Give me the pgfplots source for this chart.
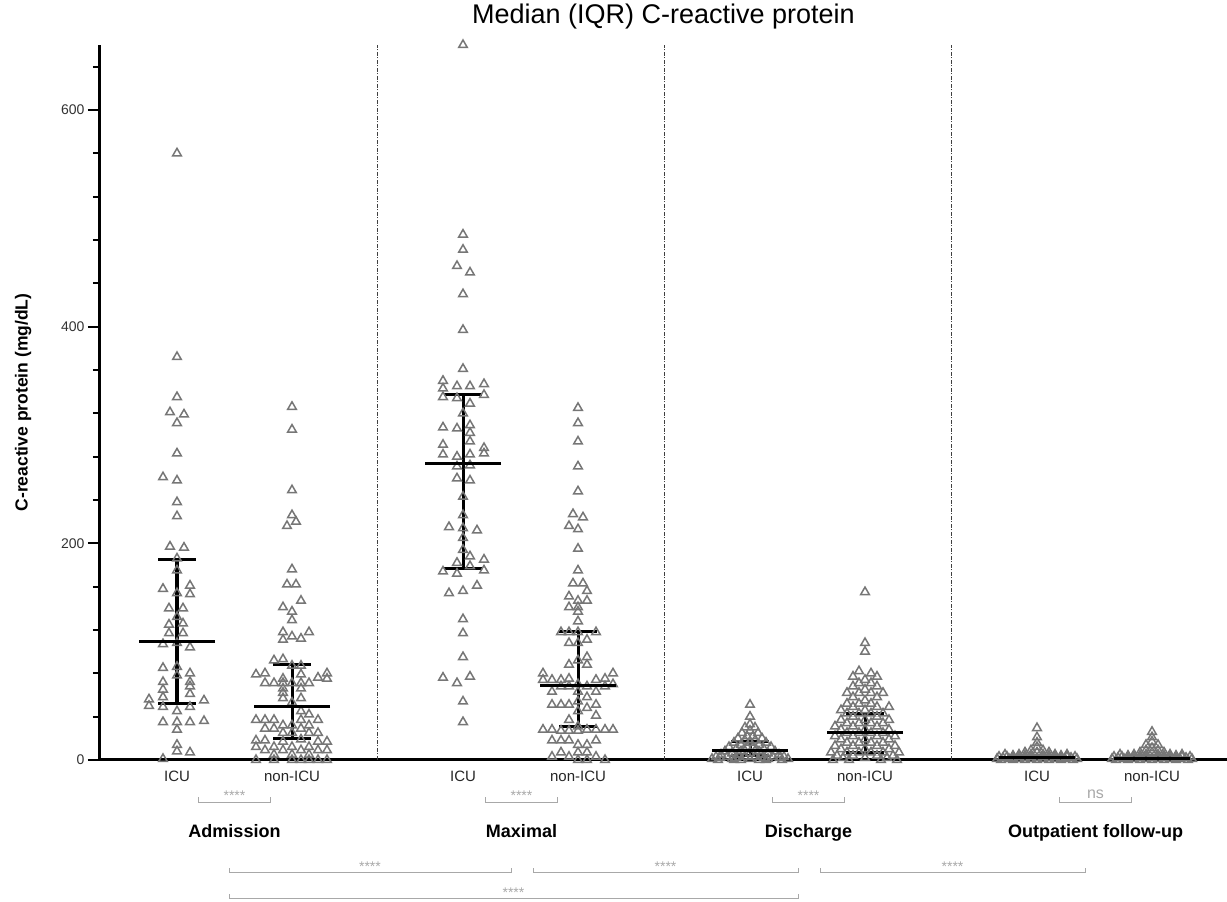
\documentclass[border=0pt]{standalone}
\usepackage{fontspec}
\setmainfont{Liberation Sans}
\usepackage{pgfplots}
\pgfplotsset{compat=1.18}
\definecolor{pt}{HTML}{767676}
\definecolor{sig}{HTML}{A8A8A8}
\pgfplotsset{
  pts/.style={only marks, mark=triangle, mark size=5pt, mark options={draw=pt, line width=1.5pt, fill=none}},
  sep/.style={black!75, line width=0.8pt, dash pattern=on 4pt off 1.5pt on 1pt off 1.5pt},
}
\tikzset{
  cat/.style={font=\fontsize{15}{18}\selectfont, text=black!85, anchor=base},
  grp/.style={font=\bfseries\fontsize{18}{21}\selectfont, anchor=base},
  stars/.style={font=\fontsize{14}{16}\selectfont, text=sig, anchor=base},
  brk/.style={draw=sig, line width=1pt},
}
\begin{document}
\begin{tikzpicture}
\begin{axis}[
  at={(100pt,142pt)}, anchor=south west,
  scale only axis, width=1127pt, height=715pt,
  xmin=100, xmax=1227, ymin=0, ymax=660,
  axis lines=left, axis line style={-, line width=3pt, black},
  xtick=\empty,
  ytick={0,200,400,600},
  minor ytick={40,80,120,160,240,280,320,360,440,480,520,560,640},
  tick align=outside, major tick length=12pt, minor tick length=7pt,
  tick style={black, line width=2pt},
  yticklabel style={font=\fontsize{14}{16}\selectfont, text=black!80},
  /pgf/number format/assume math mode=true,
  clip=false,
  title={Median (IQR) C-reactive protein},
  title style={font=\fontsize{27}{32}\selectfont, at={(0.5,1)}, anchor=center, yshift=22pt},
  ylabel={C-reactive protein (mg/dL)},
  ylabel style={font=\bfseries\fontsize{17.5}{20}\selectfont, at={(axis description cs:-0.0683,0.5)}, anchor=center},
]
% separators between time points
\addplot[sep] coordinates {(377.5,0) (377.5,660)};
\addplot[sep] coordinates {(664.5,0) (664.5,660)};
\addplot[sep] coordinates {(951.5,0) (951.5,660)};

% Admission ICU
\addplot[pts] coordinates {(177,560) (177,372) (177,335) (170,321) (184,319) (177,311) (177,283) (163,261) (177,258) (177,238) (177,225) (170,197) (184,196) (177,186) (177,175) (163,158) (190,161) (190,153) (177,154) (169,140) (183,140) (177,132) (169,125) (183,126) (169,117) (183,117) (163,107) (190,104) (177,108) (163,85) (177,86) (190,80) (177,78) (163,72) (190,72) (190,68) (163,65) (190,61) (163,58) (149,56) (204,55) (149,50) (163,49) (190,49) (177,45) (163,35) (177,35) (190,35) (204,36) (177,28) (177,14) (177,8) (190,7) (163,1)};
% Admission non-ICU
\addplot[pts] coordinates {(292,326) (292,305) (292,249) (292,226) (296,220) (287,216) (292,176) (287,162) (296,162) (301,147) (283,141) (292,137) (292,129) (283,118) (309,118) (292,114) (301,112) (283,111) (274,92) (283,93) (292,87) (301,87) (256,79) (265,80) (301,79) (327,80) (283,75) (318,76) (327,75) (265,71) (274,71) (283,71) (292,71) (301,71) (309,71) (283,66) (301,66) (283,62) (283,57) (301,57) (292,53) (301,45) (309,42) (256,37) (265,37) (274,37) (301,37) (318,37) (283,32) (292,32) (309,32) (265,29) (274,29) (301,29) (283,25) (292,25) (309,25) (318,25) (256,18) (265,18) (301,19) (283,17) (318,17) (327,17) (256,12) (274,12) (292,12) (309,12) (265,9) (283,9) (301,9) (318,9) (327,9) (274,5) (292,5) (309,5) (256,0) (274,0) (292,0) (301,0) (309,0) (318,0) (327,0)};
% Maximal ICU
\addplot[pts] coordinates {(463,660) (463,485) (463,471) (457,456) (470,450) (463,430) (463,397) (463,361) (443,350) (457,345) (470,345) (484,347) (443,343) (443,335) (457,334) (484,337) (470,329) (463,320) (443,307) (457,306) (470,309) (470,302) (470,294) (443,291) (484,288) (443,282) (457,280) (470,282) (484,283) (457,271) (470,272) (457,260) (470,258) (463,243) (463,226) (449,215) (463,214) (477,212) (463,205) (463,194) (470,188) (484,185) (457,182) (470,179) (443,174) (457,172) (484,175) (449,154) (463,156) (477,161) (463,130) (463,117) (463,95) (443,76) (457,71) (470,77) (463,54) (463,35)};
% Maximal non-ICU
\addplot[pts] coordinates {(578,325) (578,311) (578,294) (578,271) (578,248) (573,227) (583,224) (569,216) (578,213) (578,195) (578,175) (573,163) (583,163) (587,156) (569,151) (578,147) (587,147) (569,141) (578,141) (578,137) (578,128) (561,118) (569,118) (578,118) (596,118) (587,111) (569,108) (578,108) (587,95) (578,92) (569,88) (587,88) (543,80) (613,80) (569,75) (605,75) (543,74) (552,74) (561,74) (596,74) (578,70) (613,70) (561,68) (569,68) (587,68) (605,68) (552,63) (578,63) (596,63) (587,58) (578,54) (552,51) (561,51) (569,51) (596,51) (587,48) (578,45) (596,41) (569,37) (578,31) (543,28) (552,28) (587,28) (596,28) (605,28) (613,28) (561,27) (569,27) (578,27) (552,18) (561,18) (569,18) (596,18) (578,14) (587,14) (561,7) (578,7) (587,7) (552,3) (569,3) (596,3) (578,0) (587,0) (605,0)};
% Discharge ICU
\addplot[pts] coordinates {(750,51) (750,40) (750,33) (745,30) (755,30) (750,27) (742,25) (758,25) (747,22) (753,22) (738,20) (762,20) (745,18) (755,18) (734,16) (750,16) (766,16) (741,14) (759,14) (729,12) (747,12) (753,12) (771,12) (736,10) (744,10) (756,10) (764,10) (725,8) (741,8) (759,8) (775,8) (732,6) (750,6) (768,6) (721,5) (739,5) (761,5) (779,5) (716,3) (727,3) (745,3) (755,3) (773,3) (784,3) (736,2) (764,2) (720,2) (780,2) (712,1) (732,1) (750,1) (768,1) (788,1) (718,0) (734,0) (741,0) (759,0) (766,0) (782,0)};
% Discharge non-ICU
\addplot[pts] coordinates {(865,155) (865,108) (865,100) (859,82) (871,80) (853,77) (877,77) (865,74) (859,71) (871,71) (853,68) (877,68) (865,65) (847,62) (859,62) (871,62) (883,62) (853,58) (877,58) (865,55) (847,52) (859,52) (871,52) (853,49) (877,49) (889,49) (841,46) (865,46) (847,43) (859,43) (871,43) (883,43) (853,40) (877,40) (841,37) (865,37) (889,37) (847,34) (859,34) (871,34) (883,34) (835,31) (853,31) (877,31) (841,28) (865,28) (889,28) (847,25) (859,25) (871,25) (883,25) (835,22) (853,22) (877,22) (895,22) (841,19) (865,19) (889,19) (847,16) (859,16) (871,16) (883,16) (835,13) (853,13) (877,13) (895,13) (841,10) (865,10) (889,10) (831,7) (847,7) (859,7) (871,7) (883,7) (899,7) (837,4) (853,4) (877,4) (893,4) (843,2) (865,2) (887,2) (833,0) (849,0) (881,0) (897,0)};
% Outpatient ICU
\addplot[pts] coordinates {(1037,29.5) (1037,21) (1037,16) (1037,12) (1031,9) (1043,9) (1025,7) (1037,7) (1049,7) (1005,5) (1019,5) (1031,5) (1043,5) (1055,5) (1067,5) (1013,4) (1025,4) (1049,4) (1061,4) (999,3) (1007,3) (1019,3) (1031,3) (1043,3) (1055,3) (1067,3) (1075,3) (1003,2) (1013,2) (1025,2) (1037,2) (1049,2) (1061,2) (1071,2) (997,1) (1009,1) (1019,1) (1031,1) (1043,1) (1055,1) (1065,1) (1077,1) (1001,0) (1013,0) (1025,0) (1037,0) (1049,0) (1061,0) (1073,0)};
% Outpatient non-ICU
\addplot[pts] coordinates {(1152,26) (1152,21) (1152,17) (1146,14) (1158,14) (1152,11) (1146,9) (1158,9) (1140,7) (1152,7) (1164,7) (1120,5) (1134,5) (1146,5) (1158,5) (1170,5) (1182,5) (1128,4) (1140,4) (1164,4) (1176,4) (1114,3) (1122,3) (1134,3) (1146,3) (1158,3) (1170,3) (1182,3) (1190,3) (1118,2) (1128,2) (1140,2) (1152,2) (1164,2) (1176,2) (1186,2) (1112,1) (1124,1) (1134,1) (1146,1) (1158,1) (1170,1) (1180,1) (1192,1) (1116,0) (1128,0) (1140,0) (1152,0) (1164,0) (1176,0) (1188,0)};

% median and interquartile range
\addplot[only marks, mark=-, mark size=38pt, mark options={black, line width=3pt},
  error bars/.cd, y dir=both, y explicit,
  error bar style={black, line width=3pt},
  error mark=-, error mark options={rotate=90, black, mark size=19pt, line width=3pt}]
  table[x=x, y=y, y error plus=ep, y error minus=em] {
x y ep em
177 109 76.5 56.4
292 49 39.6 29.6
463 274 63 97
578 69 50 38
750 8.6 8.3 4.6
865 25.6 17.4 18.5
1037 2.5 2.1 1.5
1152 1.5 1.5 1
};

% category labels
\node[cat] at (axis cs:177,-20.3) {ICU};
\node[cat] at (axis cs:292,-20.3) {non-ICU};
\node[cat] at (axis cs:463,-20.3) {ICU};
\node[cat] at (axis cs:578,-20.3) {non-ICU};
\node[cat] at (axis cs:750,-20.3) {ICU};
\node[cat] at (axis cs:865,-20.3) {non-ICU};
\node[cat] at (axis cs:1037,-20.3) {ICU};
\node[cat] at (axis cs:1152,-20.3) {non-ICU};

% ICU vs non-ICU
\draw[brk] (axis cs:198.5,-34.2) -- (axis cs:198.5,-38.8) -- (axis cs:270.5,-38.8) -- (axis cs:270.5,-34.2);
\node[stars] at (axis cs:234.5,-37.8) {****};
\draw[brk] (axis cs:485.5,-34.2) -- (axis cs:485.5,-38.8) -- (axis cs:557.5,-38.8) -- (axis cs:557.5,-34.2);
\node[stars] at (axis cs:521.5,-37.8) {****};
\draw[brk] (axis cs:772.5,-34.2) -- (axis cs:772.5,-38.8) -- (axis cs:844.5,-38.8) -- (axis cs:844.5,-34.2);
\node[stars] at (axis cs:808.5,-37.8) {****};
\draw[brk] (axis cs:1059.5,-34.2) -- (axis cs:1059.5,-38.8) -- (axis cs:1131.5,-38.8) -- (axis cs:1131.5,-34.2);
\node[stars, font=\fontsize{16}{18}\selectfont] at (axis cs:1095.5,-36) {ns};

% time points
\node[grp] at (axis cs:234.5,-72) {Admission};
\node[grp] at (axis cs:521.5,-72) {Maximal};
\node[grp] at (axis cs:808.5,-72) {Discharge};
\node[grp] at (axis cs:1095.5,-72) {Outpatient follow-up};

% between time points
\draw[brk] (axis cs:229,-99.7) -- (axis cs:229,-104.3) -- (axis cs:511,-104.3) -- (axis cs:511,-99.7);
\node[stars] at (axis cs:370,-102.5) {****};
\draw[brk] (axis cs:533,-99.7) -- (axis cs:533,-104.3) -- (axis cs:798,-104.3) -- (axis cs:798,-99.7);
\node[stars] at (axis cs:665.5,-102.5) {****};
\draw[brk] (axis cs:820,-99.7) -- (axis cs:820,-104.3) -- (axis cs:1085,-104.3) -- (axis cs:1085,-99.7);
\node[stars] at (axis cs:952.5,-102.5) {****};
\draw[brk] (axis cs:229,-123.7) -- (axis cs:229,-127.8) -- (axis cs:798,-127.8) -- (axis cs:798,-123.7);
\node[stars] at (axis cs:513.5,-126.5) {****};
\end{axis}
\pgfresetboundingbox
\path[use as bounding box] (0,0) rectangle (1227pt,902pt);
\end{tikzpicture}
\end{document}
